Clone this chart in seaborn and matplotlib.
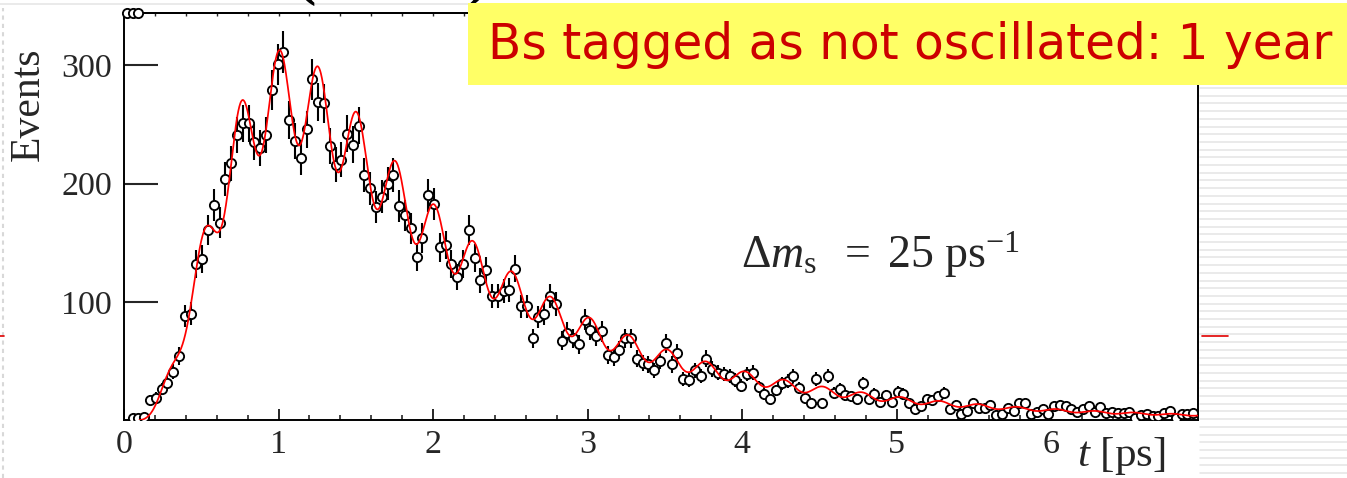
import numpy as np
import pandas as pd
import matplotlib
matplotlib.use("Agg")
import matplotlib.pyplot as plt
from matplotlib.patches import Rectangle
from matplotlib.lines import Line2D
import seaborn as sns

# ---------------- data ----------------
BIN_WIDTH = 0.0375          # ps
# events per bin (bin k centred at (k+0.5)*BIN_WIDTH); first bin not drawn
counts = [np.nan, 2, 2, 2.5, 17, 19, 26.5, 31.5, 41, 54,
          88, 90, 132, 136, 161, 182, 167, 204, 217, 241,
          251, 251, 235, 230, 241, 279, 301, 311, 254, 236,
          222, 246, 288, 269, 268, 232, 216, 220, 242, 233,
          249, 207, 196, 180, 189, 200, 207, 181, 173, 162,
          138, 154, 190, 183, 146, 148, 132, 121, 132, 161,
          137, 118, 127, 105, 105, 109, 110, 128, 96, 96,
          69, 87, 90, 105, 98, 67, 74, 69, 64, 85,
          76, 71, 75, 55, 53, 59, 69, 69, 52, 48,
          47, 42, 50, 65, 47, 57, 35, 34, 42, 37,
          52, 43, 40, 39, 37, 34, 29, 39, 40, 28,
          22, 18, 25, 31, 33, 37, 27, 19, 14, 35,
          14, 37, 23, 26, 21, 20, 18, 31, 18, 22,
          15, 21, 15, 24, 22, 14, 9, 12, 18, 17,
          20, 23, 9, 13, 5, 8, 14, 10, 10, 13,
          4, 5, 10, 8, 14, 14, 5, 7, 9, 5,
          12, 13, 12, 9, 7, 9, 12, 7, 11, 6,
          7, 6, 6, 7, 2, 4, 5, 3, 3, 6,
          8, 2, 5, 5, 6]
# fit parameters of the red curve
DELTA_MS = 25.0     # ps^-1
TAU = 1.35          # ps
NORM = 705.0
DILUTION = 0.145
ACC_TSTART = 0.10   # ps
ACC_T0 = 0.70
ACC_N = 2.05
x_ticks = [0, 1, 2, 3, 4, 5, 6]
y_ticks = [100, 200, 300]
X_MAX = 6.95
Y_MAX = 344.5

counts = np.array(counts, dtype=float)
t_centres = (np.arange(len(counts)) + 0.5) * BIN_WIDTH
df = pd.DataFrame({"t": t_centres, "n": counts}).dropna()
df["err"] = np.sqrt(df["n"])

t_fit = np.linspace(ACC_TSTART, X_MAX, 3000)
u = t_fit - ACC_TSTART
acc = 1.0 - np.exp(-(u / ACC_T0) ** ACC_N)
fit = NORM * acc * np.exp(-t_fit / TAU) * (1 + DILUTION * np.cos(DELTA_MS * t_fit))
df_fit = pd.DataFrame({"t": t_fit, "f": fit})

# ---------------- style ----------------
sns.set_theme(style="white")
plt.rcParams["font.family"] = ["Liberation Serif", "DejaVu Serif"]
plt.rcParams["mathtext.fontset"] = "custom"
plt.rcParams["mathtext.rm"] = "Liberation Serif"
plt.rcParams["mathtext.it"] = "Liberation Serif:italic"

W, H = 1347, 478
fig = plt.figure(figsize=(W / 100, H / 100), dpi=100)
fig.patch.set_facecolor("white")


def fx(px):
    return px / W


def fy(py):
    return 1 - py / H


# slide background decorations
for yy in np.arange(88, H, 7.7):
    fig.add_artist(Line2D([fx(1200), 1.0], [fy(yy), fy(yy)], color="#e4e4e4", lw=1.1))
fig.add_artist(Line2D([0, fx(470)], [fy(4), fy(4)], color="#e6e6e6", lw=1.2))
fig.add_artist(Line2D([fx(2.5), fx(2.5)], [0, fy(8)], color="#d8d8d8", lw=1.5,
                      linestyle=(0, (2, 2))))
fig.add_artist(Line2D([fx(1202), fx(1228)], [fy(336), fy(336)], color="#e00000", lw=1.2))
fig.add_artist(Line2D([0, fx(4)], [fy(336), fy(336)], color="#e00000", lw=1.2))
# partly hidden slide title above the plot
fig.text(fx(392), fy(-22), "(          )", fontsize=44, ha="center", va="center",
         color="black", fontweight="bold")

ax = fig.add_axes([fx(124), fy(420), fx(1198) - fx(124), fy(12.7) - fy(420)])
ax.set_facecolor("white")

ax.errorbar(df["t"], df["n"], yerr=df["err"], fmt="none", ecolor="black",
            elinewidth=1.5, capsize=0, zorder=2)
sns.lineplot(data=df_fit, x="t", y="f", ax=ax, color="#ff0000", lw=1.25,
             zorder=4, legend=False)
sns.scatterplot(data=df, x="t", y="n", ax=ax, s=44, marker="o",
                facecolor="white", edgecolor="black", linewidth=1.35,
                zorder=3, legend=False)
# points drawn clipped at the top-left corner in the original
ax.scatter(t_centres[:3], [Y_MAX] * 3, s=44, facecolor="white",
           edgecolor="black", linewidth=1.35, zorder=5, clip_on=False)

ax.set_xlim(0, X_MAX)
ax.set_ylim(0, Y_MAX)
ax.set_xlabel("")
ax.set_ylabel("")
ax.set_xticks(x_ticks)
ax.set_xticklabels([str(v) for v in x_ticks])
ax.set_xticks(np.arange(0, X_MAX, 0.2), minor=True)
ax.set_yticks(y_ticks)
ax.set_yticklabels([str(v) for v in y_ticks])
ax.tick_params(axis="x", which="major", direction="in", length=8, width=1.4,
               labelsize=24.5, pad=7, bottom=True, top=False)
ax.tick_params(axis="x", which="minor", direction="in", length=3.8, width=1.2,
               bottom=True, top=False)
ax.tick_params(axis="y", which="major", direction="in", length=24.5, width=1.5,
               labelsize=24.5, pad=8.5, left=True, right=False)
for s in ax.spines.values():
    s.set_visible(True)
    s.set_color("black")
    s.set_linewidth(1.4)

top = ax.secondary_xaxis("top")
top.set_xticks(np.arange(0, X_MAX, 0.2))
top.tick_params(direction="in", length=2.5, width=1.0, labeltop=False)
top.set_xticklabels([])

fig.text(fx(29), fy(104), "Events", rotation=90, fontsize=30,
         ha="center", va="center")
fig.text(fx(1077), fy(456), r"$t$ [ps]", fontsize=31, ha="left", va="center")
fig.text(fx(741), fy(255), r"$\Delta m_{\rm s}\;\ =\ 25\ {\rm ps}^{-1}$",
         fontsize=33, ha="left", va="center")

# yellow title banner
fig.add_artist(Rectangle((fx(468), fy(85)), 1 - fx(468), fy(3) - fy(85),
                         facecolor="#ffff66", edgecolor="none", zorder=10))
fig.text(fx(910), fy(45), "Bs tagged as not oscillated: 1 year",
         fontsize=35, color="#cc0000", ha="center", va="center",
         family=["DejaVu Sans"], zorder=11)

fig.savefig("out.png", dpi=100, facecolor="white")
